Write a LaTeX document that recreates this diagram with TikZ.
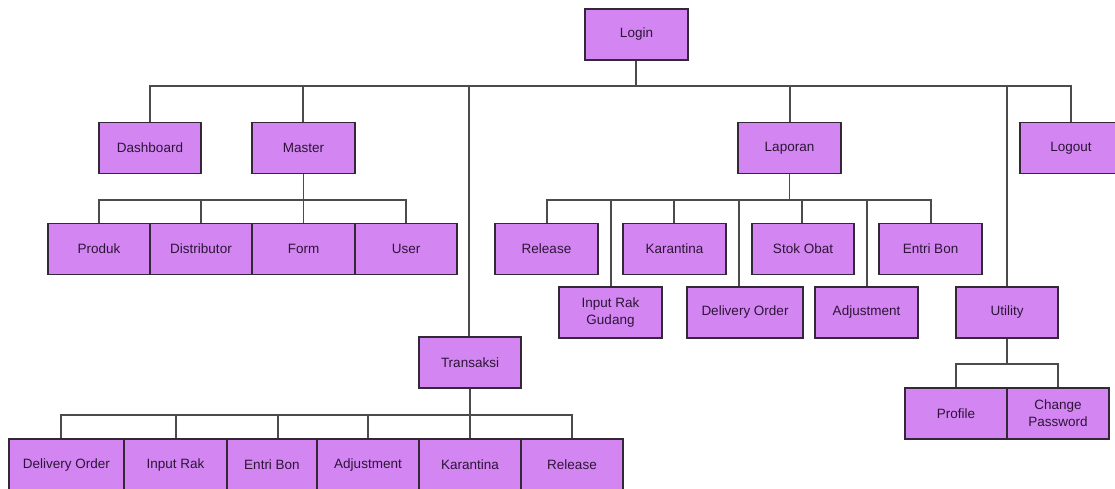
\documentclass[tikz,border=0pt]{standalone}
\usepackage{fontspec}
\setmainfont{Liberation Sans}
\definecolor{boxfill}{RGB}{211,134,242}
\definecolor{boxline}{RGB}{50,40,55}
\definecolor{txt}{RGB}{45,20,55}
\definecolor{conn}{RGB}{75,75,75}
\begin{document}
\begin{tikzpicture}[x=1pt,y=-1pt,
  box/.style={draw=boxline, line width=1.4pt, fill=boxfill, text=txt,
    minimum width=103pt, minimum height=51pt, inner sep=0pt, align=center,
    font=\fontsize{13.5}{17}\selectfont},
  link/.style={draw=conn, line width=1.8pt}]
\useasboundingbox (0,0) rectangle (1115,488);
% top level
\node[box] (login) at (636.5,34.5) {Login};
\node[box, minimum width=102pt] (dash) at (150,148) {Dashboard};
\node[box] (master) at (303.5,148) {Master};
\node[box] (lap) at (789.5,148) {Laporan};
\node[box, minimum width=102pt] (logout) at (1071,148) {Logout};
\node[box, minimum width=102pt] (trans) at (470,362.5) {Transaksi};
\node[box, minimum width=102pt] (util) at (1007,312.5) {Utility};
% master children
\node[box, minimum width=102pt] (produk) at (99,249) {Produk};
\node[box, minimum width=102pt] (distr) at (201,249) {Distributor};
\node[box] (form) at (303.5,249) {Form};
\node[box, minimum width=102pt] (user) at (406,249) {User};
% laporan children
\node[box] (lrel) at (546.5,249) {Release};
\node[box] (lkar) at (674.5,249) {Karantina};
\node[box, minimum width=102pt] (lstok) at (803,249) {Stok Obat};
\node[box] (lentri) at (930.5,249) {Entri Bon};
\node[box] (linput) at (610.5,312.5) {Input Rak\\Gudang};
\node[box, minimum width=116pt] (ldo) at (745,312.5) {Delivery Order};
\node[box] (ladj) at (866.5,312.5) {Adjustment};
% utility children
\node[box, minimum width=102pt] (prof) at (956,413.5) {Profile};
\node[box, minimum width=102pt] (chpw) at (1058,413.5) {Change\\Password};
% transaksi children
\node[box, minimum width=115pt] (tdo) at (66.5,464.5) {Delivery Order};
\node[box] (tinput) at (175.5,464.5) {Input Rak};
\node[box, minimum width=90pt] (tentri) at (272,464.5) {Entri Bon};
\node[box, minimum width=102pt] (tadj) at (368,464.5) {Adjustment};
\node[box, minimum width=102pt] (tkar) at (470,464.5) {Karantina};
\node[box, minimum width=102pt] (trel) at (572,464.5) {Release};
% connectors
\begin{scope}[on background layer/.style={}]
\foreach \c/\s in {dash/0, master/-0.5, trans/-1, lap/0.5, util/0, logout/0}
  \draw[link] (login.south) ++(-0.5,0) -- ++(0,25) -| ([xshift=\s pt]\c.north);
\foreach \c in {produk, distr, form, user}
  \draw[link] (master.south) -- ++(0,26) -| (\c.north);
\foreach \c/\s in {lrel/0.5, linput/0.5, lkar/-0.5, ldo/-6, lstok/-1, ladj/0.5, lentri/0.5}
  \draw[link] (lap.south) -- ++(0,26) -| ([xshift=\s pt]\c.north);
\foreach \c in {prof, chpw}
  \draw[link] (util.south) -- ++(0,25) -| (\c.north);
\foreach \c/\s in {tdo/-5.5, tinput/0.5, tentri/6, tadj/0, tkar/0, trel/0}
  \draw[link] (trans.south) -- ++(0,26) -| ([xshift=\s pt]\c.north);
\end{scope}
\end{tikzpicture}
\end{document}
